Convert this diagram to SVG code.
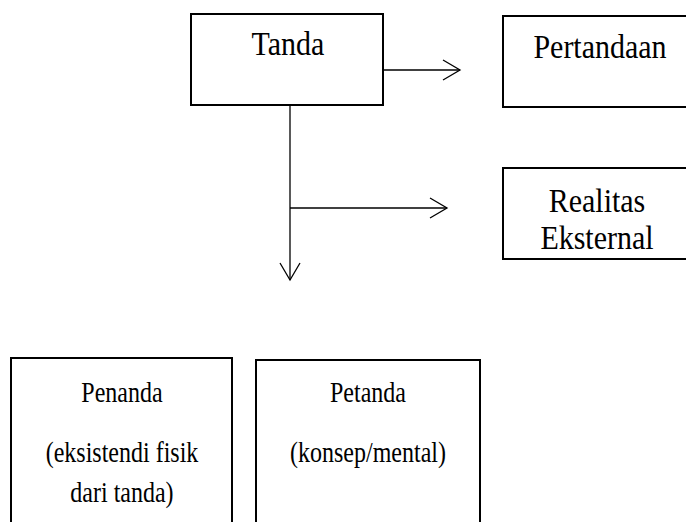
<svg xmlns="http://www.w3.org/2000/svg" width="686" height="522" viewBox="0 0 686 522">
<style>
.box{fill:#fff;stroke:#000;stroke-width:2}
.t{font-family:"Liberation Serif","Times New Roman",serif;fill:#000;text-anchor:middle}
.big{font-size:30px}
.sm{font-size:24px}
.ln{stroke:#000;stroke-width:1.3;fill:none}
</style>
<defs>
<marker id="ah" markerUnits="userSpaceOnUse" markerWidth="24" markerHeight="24" viewBox="-20 -12 24 24" refX="0" refY="0" orient="auto">
<path d="M-17,-10 L0,0 L-17,10" fill="none" stroke="#000" stroke-width="1.3"/>
</marker>
</defs>
<rect width="686" height="522" fill="#fff"/>
<g id="connectors">
<line class="ln" x1="383" y1="70" x2="460" y2="70" marker-end="url(#ah)"/>
<line class="ln" x1="290" y1="105" x2="290" y2="280" marker-end="url(#ah)"/>
<line class="ln" x1="290" y1="208" x2="447" y2="208" marker-end="url(#ah)"/>
</g>
<g id="tanda">
<rect class="box" x="191" y="14" width="192" height="91"/>
<text class="t big" transform="translate(288,55) scale(1,1.15)">Tanda</text>
</g>
<g id="pertandaan">
<rect class="box" x="503" y="16" width="196" height="91"/>
<text class="t big" transform="translate(600,58) scale(1,1.15)">Pertandaan</text>
</g>
<g id="realitas">
<rect class="box" x="503" y="168" width="196" height="91"/>
<text class="t big" transform="translate(597,212) scale(1,1.1)">Realitas</text>
<text class="t big" transform="translate(597,249) scale(1,1.1)">Eksternal</text>
</g>
<g id="penanda">
<rect class="box" x="11" y="358" width="221" height="180"/>
<text class="t sm" transform="translate(122,402) scale(1,1.25)">Penanda</text>
<text class="t sm" transform="translate(122,462) scale(1,1.25)">(eksistendi fisik</text>
<text class="t sm" transform="translate(122,502) scale(1,1.25)">dari tanda)</text>
</g>
<g id="petanda">
<rect class="box" x="256" y="360" width="224" height="180"/>
<text class="t sm" transform="translate(368,402) scale(1,1.25)">Petanda</text>
<text class="t sm" transform="translate(368,462) scale(1,1.25)">(konsep/mental)</text>
</g>
</svg>
